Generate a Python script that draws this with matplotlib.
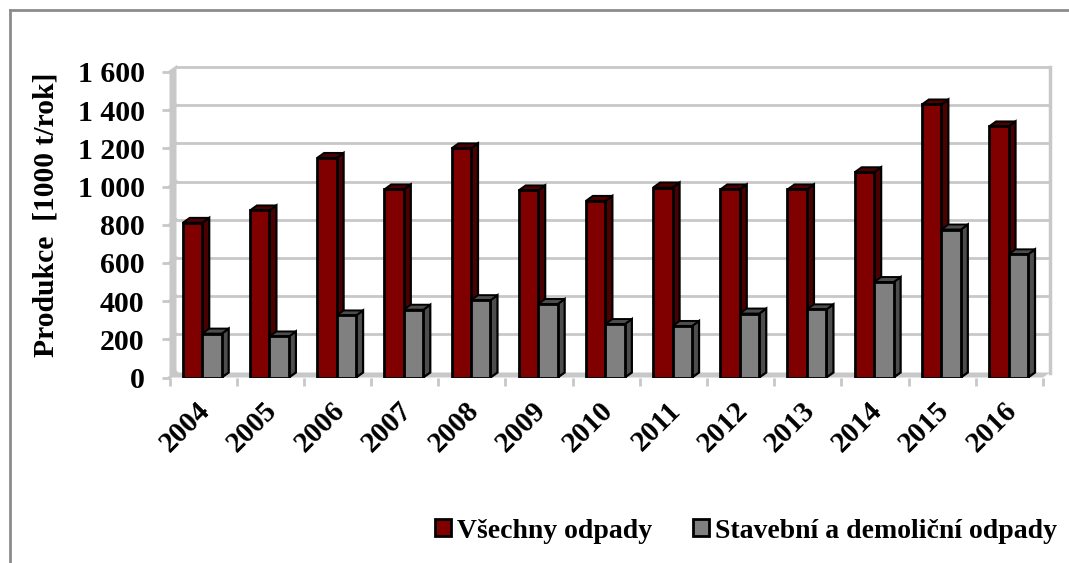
#!/usr/bin/env python3

import matplotlib
matplotlib.use('Agg')
import matplotlib.pyplot as plt
import numpy as np
from matplotlib.lines import Line2D
from matplotlib.patches import Patch, Polygon

plt.rcParams['font.family'] = ['Liberation Serif', 'DejaVu Serif']
plt.rcParams['font.weight'] = 'bold'

years = ['2004', '2005', '2006', '2007', '2008', '2009', '2010',
         '2011', '2012', '2013', '2014', '2015', '2016']
all_waste = [810, 875, 1150, 985, 1200, 980, 925, 995, 985, 985, 1075, 1430, 1315]
demolition = [230, 215, 325, 355, 405, 385, 280, 270, 335, 357, 500, 775, 645]
y_ticks = [0, 200, 400, 600, 800, 1000, 1200, 1400, 1600]
y_labels = ['0', '200', '400', '600', '800', '1 000', '1 200', '1 400', '1 600']

W, H = 1069, 563
left, right, bottom, top = 169.5, 1043, 377.5, 72

# Colors
red = '#800000'
red_side = '#4d0000'
grey = '#808080'
grey_side = '#4d4d4d'
wall = '#c8c8c8'

fig = plt.figure(figsize=(W / 100, H / 100), dpi=100)
ax = fig.add_axes([left / W, 1 - bottom / H, (right - left) / W, (bottom - top) / H])
ax.patch.set_visible(False)

x = np.arange(len(years))
width = 0.29
ax.set_xlim(0, len(years))
ax.set_ylim(0, 1600)

# depth of the fake 3D, in data units
dx = 7 / ((right - left) / len(years))
dy = 5 / ((bottom - top) / 1600)

# back wall gridlines, left wall and floor
for t in y_ticks:
    ax.plot([0, dx], [t, t + dy], color=wall, lw=2, clip_on=False, zorder=1)
    if t > 0:
        ax.plot([dx, len(years) + dx], [t + dy, t + dy], color=wall, lw=2,
                clip_on=False, zorder=1)
ax.add_patch(Polygon([(0, 0), (dx, dy), (dx, 1600 + dy), (0, 1600)], fc=wall, ec='none',
                     clip_on=False, zorder=1))
ax.add_patch(Polygon([(0, 0), (dx, dy), (len(years) + dx, dy), (len(years), 0)], fc=wall,
                     ec='none', clip_on=False, zorder=1))
ax.plot([len(years) + dx, len(years) + dx], [dy, 1600 + dy], color=wall, lw=2.5,
        clip_on=False, zorder=1)


def bar3d(xs, values, face, side, z):
    ax.bar(xs, values, width, align='edge', color=face, edgecolor='black', lw=2, zorder=z + 1)
    for xi, v in zip(xs, values):
        x2 = xi + width
        ax.add_patch(Polygon([(x2, 0), (x2 + dx, dy), (x2 + dx, v + dy), (x2, v)],
                             fc=side, ec='black', lw=1.6, zorder=z))
        ax.add_patch(Polygon([(xi, v), (xi + dx, v + dy), (x2 + dx, v + dy), (x2, v)],
                             fc=side, ec='black', lw=1.4, zorder=z))


bar3d(x + 0.197, all_waste, red, red_side, 3)
bar3d(x + 0.197 + width, demolition, grey, grey_side, 5)

ax.set_yticks(y_ticks)
ax.set_yticklabels(y_labels, fontsize=21.5, fontweight='bold')
ax.set_xticks(np.arange(len(years) + 1))
ax.set_xticklabels([])
ax.set_xticks(x + 0.40, minor=True)
ax.set_xticklabels(years, minor=True, fontsize=21, fontweight='bold', rotation=45,
                   ha='right', va='top', rotation_mode='anchor')
ax.tick_params(axis='x', which='minor', length=0, pad=14)
ax.tick_params(axis='both', which='major', color=wall, width=2, length=6)
ax.tick_params(axis='y', pad=12)
for s in ax.spines.values():
    s.set_visible(False)

ax.set_ylabel('Produkce  [1000 t/rok]', fontsize=21.3, fontweight='bold', labelpad=13, y=0.532)

# chart frame, only top and left edges are inside the crop
frame_x = 10 / W
frame_y = 1 - 9.5 / H
fig.add_artist(Line2D([frame_x, frame_x], [0, frame_y], color='#8c8c8c', lw=2))
fig.add_artist(Line2D([frame_x, 1], [frame_y, frame_y], color='#8c8c8c', lw=2))

handles = [Patch(fc=red, ec='black', lw=2, label='Všechny odpady'),
           Patch(fc=grey, ec='black', lw=2, label='Stavební a demoliční odpady')]
fig.legend(handles=handles, loc='center right', bbox_to_anchor=(1057 / W, 1 - 531 / H), ncol=2,
           frameon=False, fontsize=20, handlelength=0.58, handleheight=0.58,
           handletextpad=0.22, columnspacing=1.45, borderpad=0, borderaxespad=0)

fig.savefig('out.png', dpi=100)
